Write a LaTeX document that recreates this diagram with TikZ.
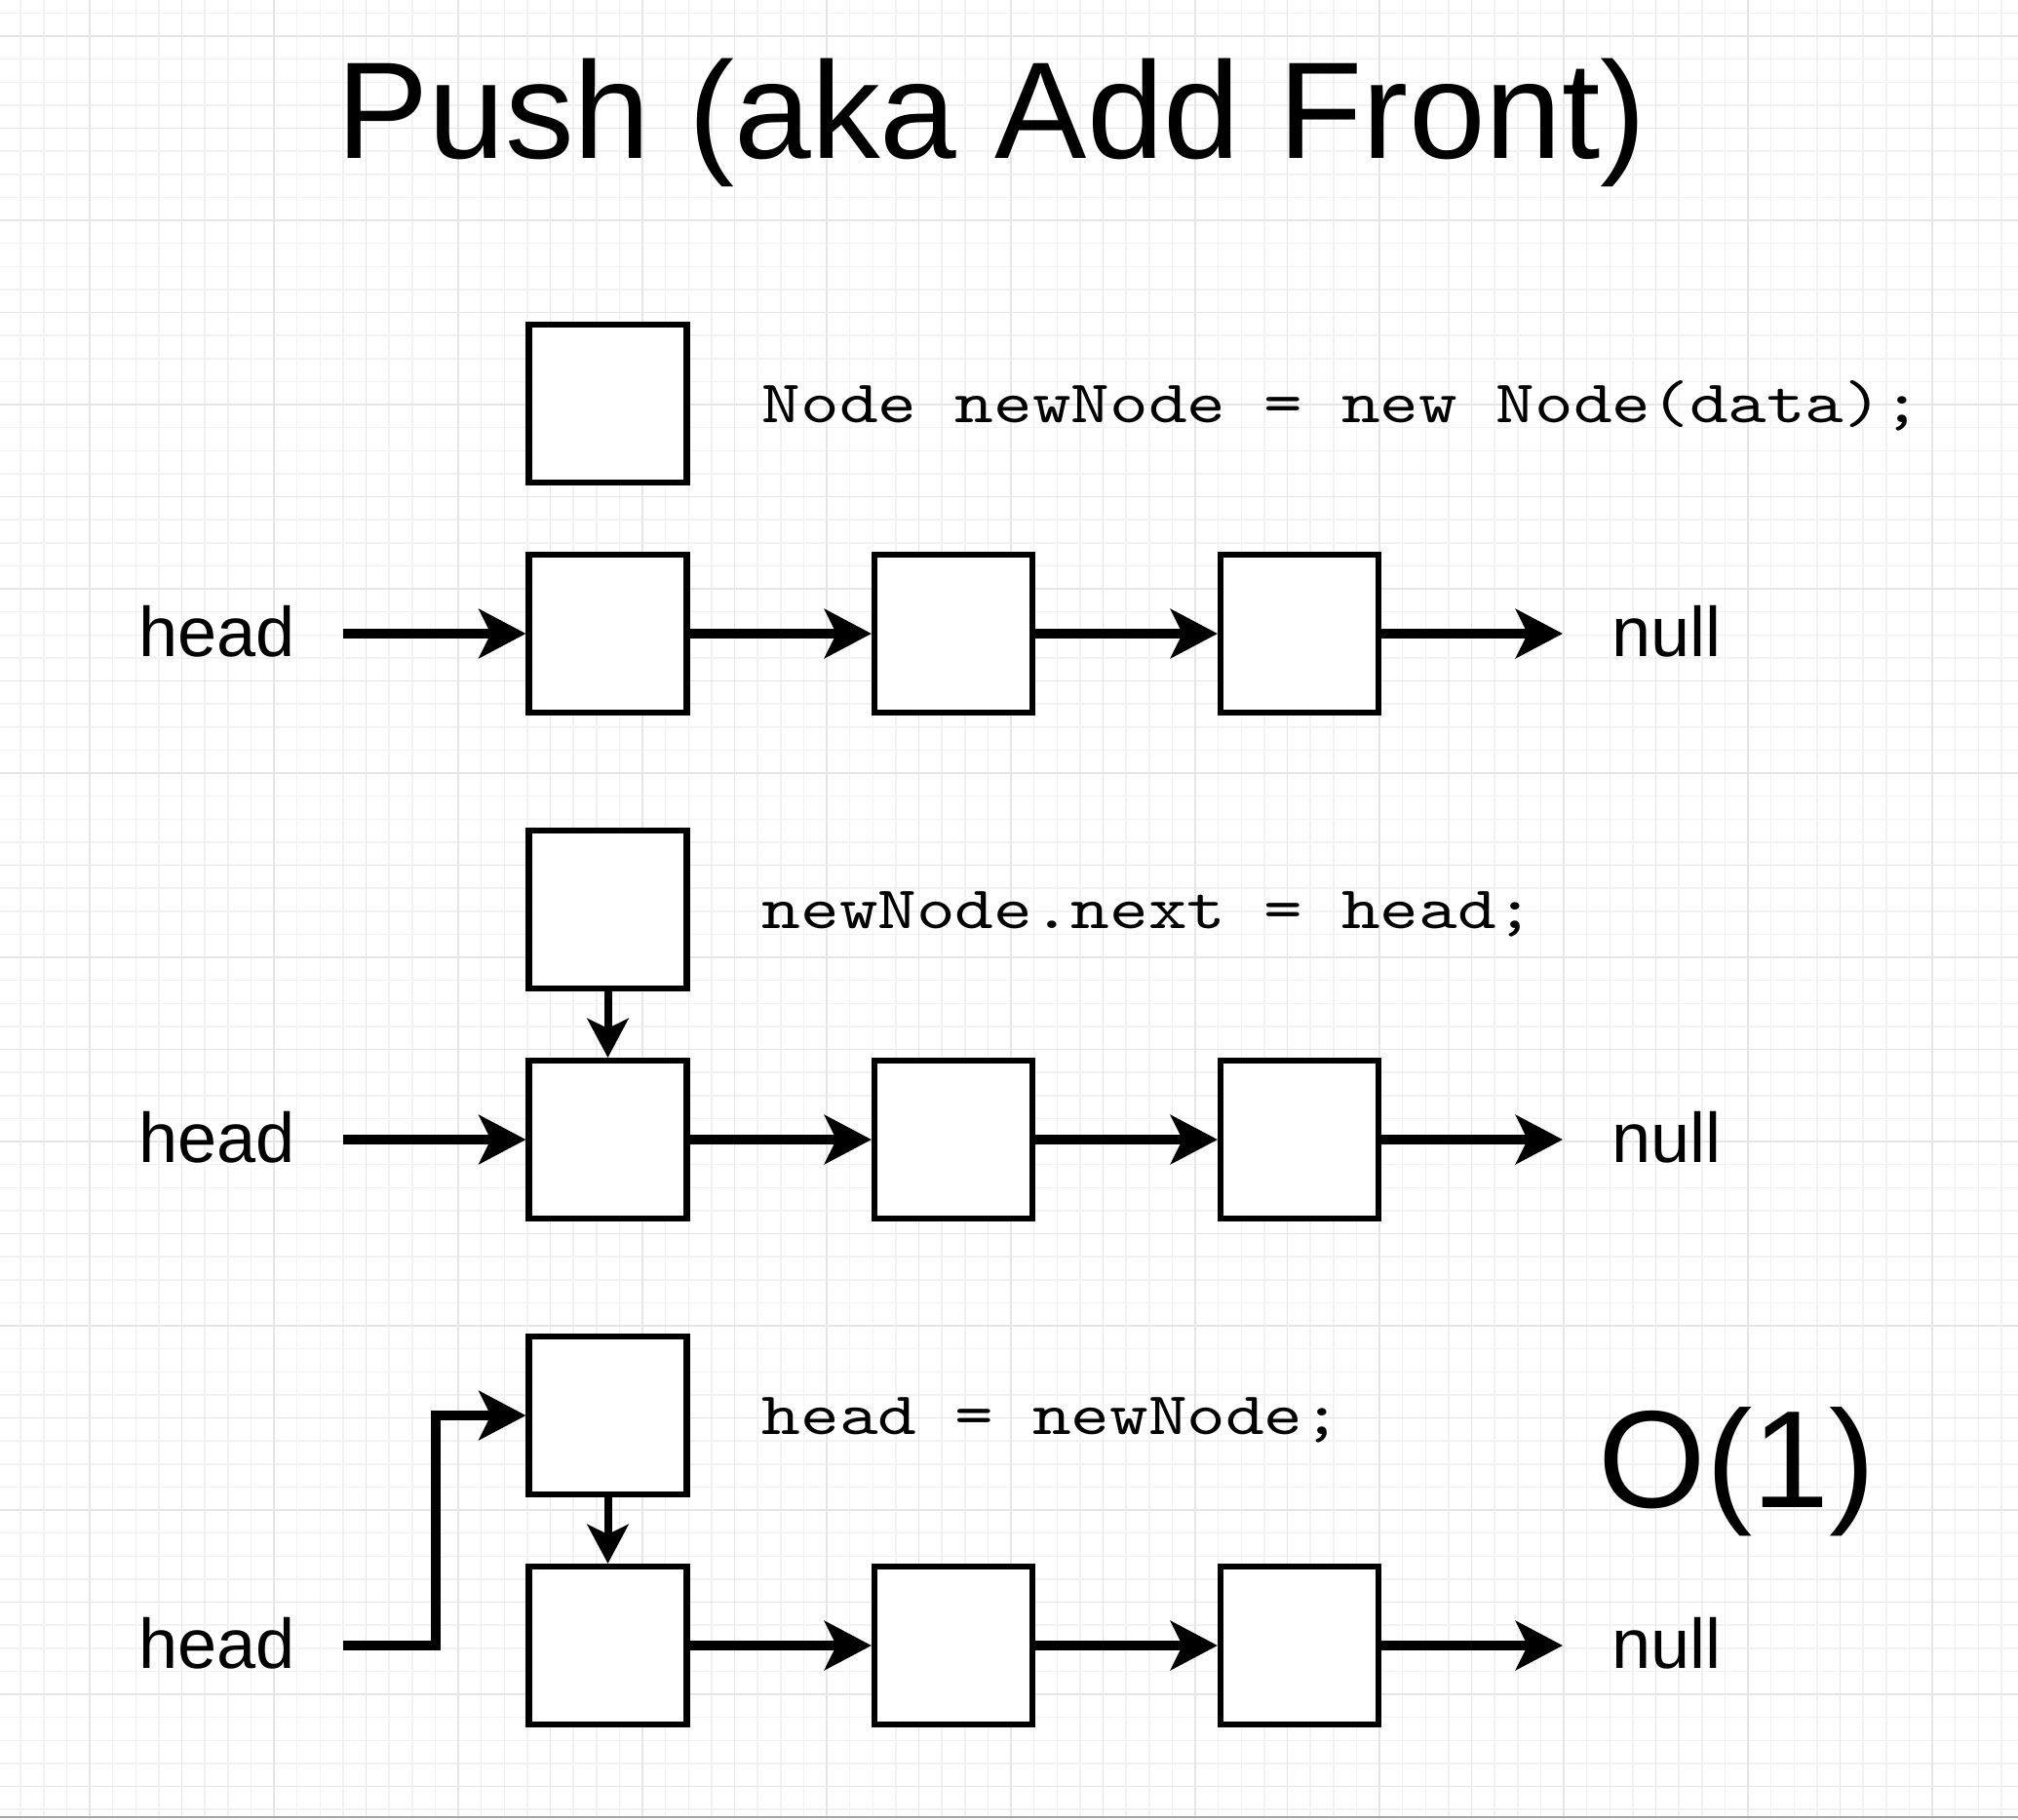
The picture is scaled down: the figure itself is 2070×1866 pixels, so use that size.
\documentclass[tikz,border=0pt]{standalone}
\usepackage{fontspec}
\setmainfont{Liberation Sans}
\newfontfamily\codefont[FakeStretch=1.22]{lmmono10-regular.otf}
\usetikzlibrary{arrows.meta}
\definecolor{gridminor}{HTML}{F2F2F2}
\definecolor{gridmajor}{HTML}{E6E6E6}
\tikzset{
  lnode/.style={draw, line width=0.065cm, minimum size=1.615cm, inner sep=0pt, fill=white},
  arr/.style={line width=0.1cm, line join=miter, -{Stealth[length=0.48cm,width=0.5cm,inset=0.12cm]}},
  varr/.style={line width=0.08cm, -{Stealth[length=0.4cm,width=0.42cm,inset=0.1cm]}},
  lbl/.style={inner sep=0pt, font=\fontsize{20.5pt}{24pt}\selectfont},
  code/.style={inner sep=0pt, font=\codefont\fontsize{17.6pt}{21pt}\selectfont},
}
\begin{document}
\begin{tikzpicture}[x=0.01cm,y=-0.01cm]
\useasboundingbox (0,0) rectangle (2070,1866);
\fill[white] (0,0) rectangle (2070,1866);
% grid
\foreach \i in {0,...,88} {
  \draw[gridminor, line width=0.015cm] ({-2.5+23.625*\i},0) -- ({-2.5+23.625*\i},1866);
}
\foreach \i in {0,...,81} {
  \draw[gridminor, line width=0.015cm] (0,{-57.5+23.625*\i}) -- (2070,{-57.5+23.625*\i});
}
\foreach \i in {0,...,22} {
  \draw[gridmajor, line width=0.018cm] ({-2.5+94.5*\i},0) -- ({-2.5+94.5*\i},1866);
}
\foreach \i in {0,...,20} {
  \draw[gridmajor, line width=0.018cm] (0,{-57.5+94.5*\i}) -- (2070,{-57.5+94.5*\i});
}
\draw[gray!70, line width=0.02cm] (0,1864) -- (2070,1864);

% title
\node[inner sep=0pt, anchor=base, font=\fontsize{40.2pt}{46pt}\selectfont] (title) at (1017,162) {Push (aka Add Front)};

% ---------- row 1 ----------
\node[lnode] (nn1) at (623.5,414) {};
\node[code, anchor=base west] (c1) at (781,433) {Node newNode = new Node(data);};
\node[lnode] (a1) at (623.5,650) {};
\node[lnode] (b1) at (978,650) {};
\node[lnode] (d1) at (1333,650) {};
\node[lbl, anchor=base west] (h1) at (142,673) {head};
\node[lbl, anchor=base west] (z1) at (1653,673) {null};
\coordinate (hs1) at (352,650);
\coordinate (ne1) at (1603,650);
\draw[arr] (hs1) -- (a1.west);
\draw[arr] (a1.east) -- (b1.west);
\draw[arr] (b1.east) -- (d1.west);
\draw[arr] (d1.east) -- (ne1);

% ---------- row 2 ----------
\node[lnode] (nn2) at (623.5,933) {};
\node[code, anchor=base west] (c2) at (781,952) {newNode.next = head;};
\node[lnode] (a2) at (623.5,1169) {};
\node[lnode] (b2) at (978,1169) {};
\node[lnode] (d2) at (1333,1169) {};
\node[lbl, anchor=base west] (h2) at (142,1192) {head};
\node[lbl, anchor=base west] (z2) at (1653,1192) {null};
\coordinate (hs2) at (352,1169);
\coordinate (ne2) at (1603,1169);
\draw[arr] (hs2) -- (a2.west);
\draw[arr] (a2.east) -- (b2.west);
\draw[arr] (b2.east) -- (d2.west);
\draw[arr] (d2.east) -- (ne2);
\draw[varr] (nn2.south) -- (a2.north);

% ---------- row 3 ----------
\node[lnode] (nn3) at (623.5,1452) {};
\node[code, anchor=base west] (c3) at (781,1471) {head = newNode;};
\node[lnode] (a3) at (623.5,1688) {};
\node[lnode] (b3) at (978,1688) {};
\node[lnode] (d3) at (1333,1688) {};
\node[lbl, anchor=base west] (h3) at (142,1711) {head};
\node[lbl, anchor=base west] (z3) at (1653,1711) {null};
\coordinate (hs3) at (352,1688);
\coordinate (bend3) at (447,1688);
\coordinate (ne3) at (1603,1688);
\draw[arr] (hs3) -- (bend3) |- (nn3.west);
\draw[arr] (a3.east) -- (b3.west);
\draw[arr] (b3.east) -- (d3.west);
\draw[arr] (d3.east) -- (ne3);
\draw[varr] (nn3.south) -- (a3.north);

% complexity
\node[inner sep=0pt, anchor=base, font=\fontsize{40.4pt}{46pt}\selectfont] (o1) at (1782,1546) {O(1)};
\end{tikzpicture}
\end{document}
